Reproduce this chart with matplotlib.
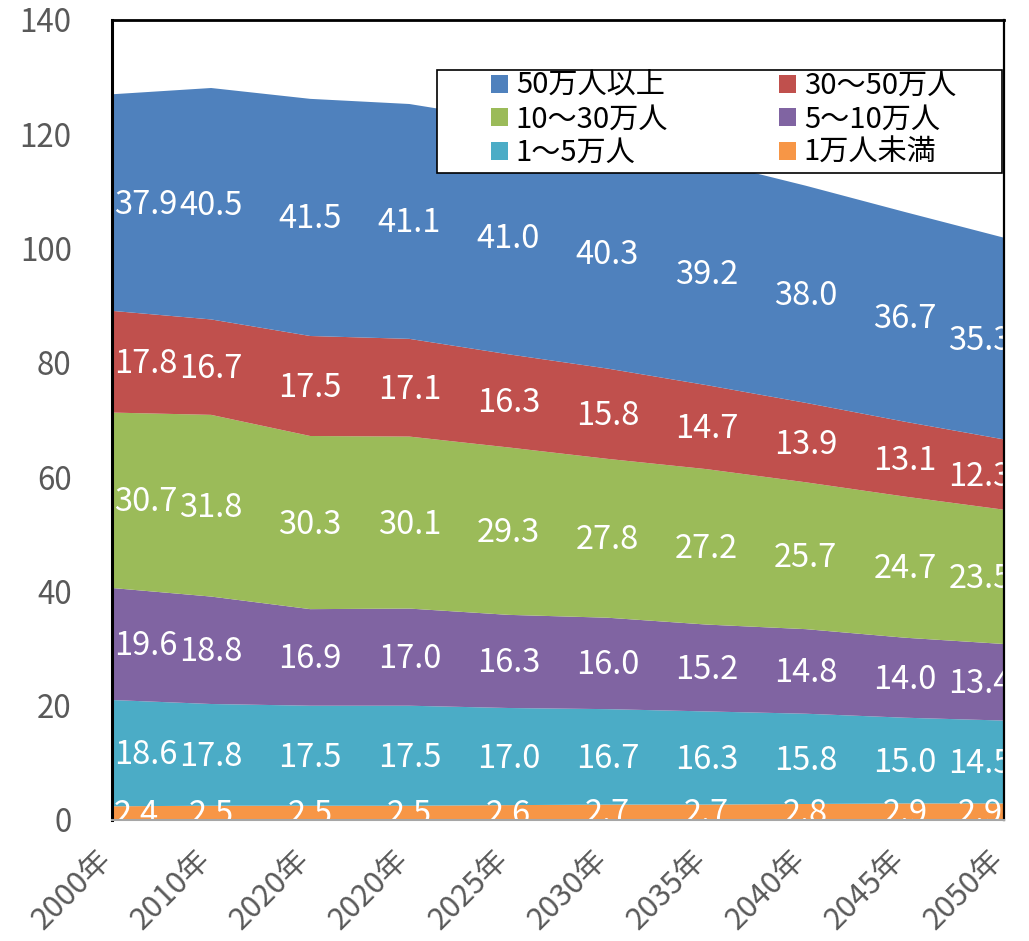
import matplotlib
matplotlib.use('Agg')
import matplotlib.pyplot as plt
from matplotlib.patches import Patch, Rectangle
from matplotlib.transforms import offset_copy, ScaledTranslation
import numpy as np

plt.rcParams['font.family'] = ['Noto Sans CJK JP', 'DejaVu Sans']

years = ['2000年', '2010年', '2020年', '2020年', '2025年', '2030年', '2035年', '2040年', '2045年', '2050年']

under_1 = [2.4, 2.5, 2.5, 2.5, 2.6, 2.7, 2.7, 2.8, 2.9, 2.9]
from_1_to_5 = [18.6, 17.8, 17.5, 17.5, 17.0, 16.7, 16.3, 15.8, 15.0, 14.5]
from_5_to_10 = [19.6, 18.8, 16.9, 17.0, 16.3, 16.0, 15.2, 14.8, 14.0, 13.4]
from_10_to_30 = [30.7, 31.8, 30.3, 30.1, 29.3, 27.8, 27.2, 25.7, 24.7, 23.5]
from_30_to_50 = [17.8, 16.7, 17.5, 17.1, 16.3, 15.8, 14.7, 13.9, 13.1, 12.3]
over_50 = [37.9, 40.5, 41.5, 41.1, 41.0, 40.3, 39.2, 38.0, 36.7, 35.3]

series_names = ['1万人未満', '1～5万人', '5～10万人', '10～30万人', '30～50万人', '50万人以上']
series_values = [under_1, from_1_to_5, from_5_to_10, from_10_to_30, from_30_to_50, over_50]
colors = ['#F79646', '#4BACC6', '#8064A2', '#9BBB59', '#C0504D', '#4F81BD']

W, H = 1029, 941
fig = plt.figure(figsize=(W / 100, H / 100), dpi=100)
L, R, T, B = 112, 1004, 20, 820
ax = fig.add_axes([L / W, 1 - B / H, (R - L) / W, (B - T) / H])

x = np.arange(len(years))
ax.stackplot(x, *series_values, colors=colors, linewidth=0)
ax.set_xlim(0, len(years) - 1)
ax.set_ylim(0, 140)
ax.set_yticks(np.arange(0, 141, 20))
ax.set_xticks(x)
ax.set_xticklabels(years, rotation=45, ha='right')

tick_color = '#595959'
ax.tick_params(axis='y', length=0, pad=29, labelsize=22.5, labelcolor=tick_color)
ax.tick_params(axis='x', length=0, pad=17, labelsize=22, labelcolor=tick_color)
shift = ScaledTranslation(6 / 100, 0, fig.dpi_scale_trans)
for lab in ax.get_xticklabels():
    lab.set_transform(lab.get_transform() + shift)

ax.spines['left'].set_color('black')
ax.spines['left'].set_linewidth(2.2)
ax.spines['top'].set_color('black')
ax.spines['top'].set_linewidth(2.0)
ax.spines['right'].set_color('black')
ax.spines['right'].set_linewidth(1.6)
ax.spines['bottom'].set_color('#A6A6A6')
ax.spines['bottom'].set_linewidth(1.5)
for sp in ax.spines.values():
    sp.set_zorder(10)

cum = np.cumsum(np.array(series_values), axis=0)
n = len(years)
for i, vals in enumerate(series_values):
    for j, v in enumerate(vals):
        mid = cum[i][j] - v / 2
        if j == 0:
            ha, dx = 'left', 2
        elif j == n - 1:
            ha, dx = 'center', -24
        else:
            ha, dx = 'center', 0
        tr = offset_copy(ax.transData, fig=fig, x=dx, y=-2, units='dots')
        ax.text(j, mid, f'{v:.1f}', transform=tr, ha=ha, va='center',
                color='white', fontsize=23.5, clip_on=True, zorder=5)

# legend frame
fig.add_artist(Rectangle((437 / W, 1 - 173 / H), (1002 - 437) / W, (173 - 70) / H,
                         transform=fig.transFigure, facecolor='white',
                         edgecolor='black', linewidth=1.2, zorder=3))

order = [5, 3, 1, 4, 2, 0]
handles = [Patch(facecolor=colors[k], edgecolor='none') for k in order]
labels = [series_names[k] for k in order]
fig.legend(handles, labels, ncol=2, loc='upper left',
           bbox_to_anchor=(491 / W, 1 - 71 / H), bbox_transform=fig.transFigure,
           frameon=False, fontsize=21, borderpad=0, borderaxespad=0,
           handlelength=0.58, handleheight=0.58, handletextpad=0.27,
           columnspacing=3.8, labelspacing=0.12)

fig.savefig('out.png', dpi=100)
